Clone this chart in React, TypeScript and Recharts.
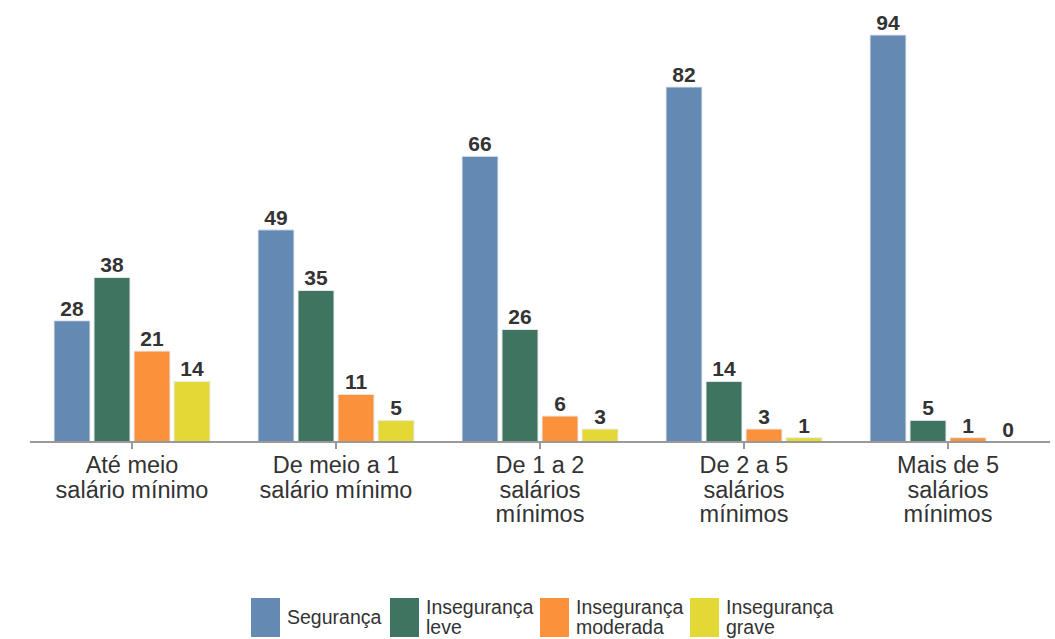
import { Bar, BarChart, LabelList, XAxis, YAxis } from "recharts";

const categories = [
  ["Até meio", "salário mínimo"],
  ["De meio a 1", "salário mínimo"],
  ["De 1 a 2", "salários", "mínimos"],
  ["De 2 a 5", "salários", "mínimos"],
  ["Mais de 5", "salários", "mínimos"],
];
const seguranca = [28, 49, 66, 82, 94];
const insegLeve = [38, 35, 26, 14, 5];
const insegModerada = [21, 11, 6, 3, 1];
const insegGrave = [14, 5, 3, 1, 0];

const series = [
  { key: "seg", name: ["Segurança"], color: "#6489b3" },
  { key: "leve", name: ["Insegurança", "leve"], color: "#3f7461" },
  { key: "mod", name: ["Insegurança", "moderada"], color: "#fb923b" },
  { key: "grave", name: ["Insegurança", "grave"], color: "#e4d837" },
];

const data = categories.map((c, i) => ({
  cat: c.join(" "),
  seg: seguranca[i],
  leve: insegLeve[i],
  mod: insegModerada[i],
  grave: insegGrave[i],
}));

const FONT = "'Liberation Sans', Arial, sans-serif";

const CatTick = ({ x, y, index }: any) => {
  const lines = categories[index] || [];
  return (
    <g transform={`translate(${x},${y})`}>
      {lines.map((l, i) => (
        <text
          key={i}
          x={0}
          y={22 + i * 24.5}
          textAnchor="middle"
          fill="#333"
          fontSize={23.5}
          fontFamily={FONT}
        >
          {l}
        </text>
      ))}
    </g>
  );
};

const ValueLabel = ({ x, y, width, value }: any) => (
  <text
    x={x + width / 2}
    y={y - 5}
    textAnchor="middle"
    fill="#333"
    fontSize={21}
    fontWeight="bold"
    fontFamily={FONT}
  >
    {value}
  </text>
);

export default function App() {
  return (
    <div style={{ position: "absolute", left: 0, top: 0, width: 1055, height: 639, background: "#fff" }}>
      <BarChart
        width={1055}
        height={639}
        data={data}
        margin={{ top: 9, right: 5, left: 30, bottom: 0 }}
        barSize={36}
        barGap={4}
      >
        <YAxis hide domain={[0, 100]} />
        <XAxis
          dataKey="cat"
          height={197}
          interval={0}
          axisLine={{ stroke: "#999", strokeWidth: 2 }}
          tickLine={{ stroke: "#999", strokeWidth: 2 }}
          tickSize={7}
          tick={<CatTick />}
        />
        {series.map((s) => (
          <Bar
            key={s.key}
            dataKey={s.key}
            fill={s.color}
            stroke="#e8ecf0"
            strokeWidth={1}
            minPointSize={(v: number) => (v === 0 ? 0.1 : 0)}
            isAnimationActive={false}
          >
            <LabelList dataKey={s.key} content={<ValueLabel />} />
          </Bar>
        ))}
      </BarChart>
      <div
        style={{
          position: "absolute",
          left: 251,
          top: 597,
          display: "flex",
          fontFamily: FONT,
          fontSize: 19.5,
          color: "#333",
          lineHeight: "20px",
        }}
      >
        {series.map((s, i) => (
          <div key={s.key} style={{ display: "flex", width: i === 0 ? 139 : 150, alignItems: "center" }}>
            <div style={{ width: 29, height: 39, background: s.color, flexShrink: 0 }} />
            <div style={{ marginLeft: 7, whiteSpace: "nowrap" }}>
              {s.name.map((n, j) => (
                <div key={j}>{n}</div>
              ))}
            </div>
          </div>
        ))}
      </div>
    </div>
  );
}
